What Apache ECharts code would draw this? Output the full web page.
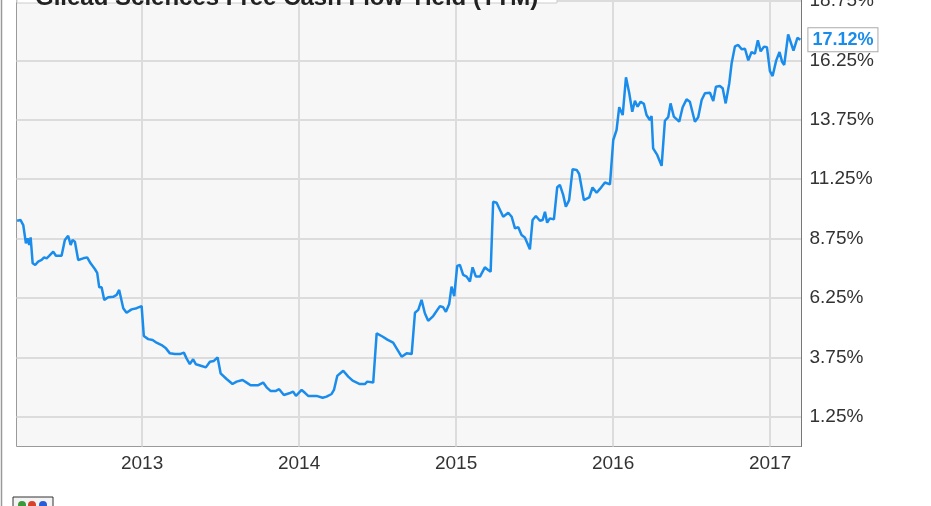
<!DOCTYPE html>
<html>
<head>
<meta charset="utf-8">
<script src="https://cdn.jsdelivr.net/npm/echarts@6/dist/echarts.min.js"></script>
<style>
html,body{margin:0;padding:0;background:#fff;}
#chart{width:931px;height:506px;}
</style>
</head>
<body>
<div id="chart"></div>
<script>
const chartTitle = 'Gilead Sciences Free Cash Flow Yield (TTM)';
const yearTicks = [2013, 2014, 2015, 2016, 2017];
const yTicks = [1.25, 3.75, 6.25, 8.75, 11.25, 13.75, 16.25, 18.75];

const years = [
  2012.204, 2012.226, 2012.243, 2012.260, 2012.271, 2012.281, 2012.290, 2012.303, 2012.319, 2012.338,
  2012.360, 2012.376, 2012.392, 2012.408, 2012.434, 2012.451, 2012.487, 2012.508, 2012.529, 2012.545,
  2012.557, 2012.572, 2012.593, 2012.625, 2012.650, 2012.672, 2012.699, 2012.714, 2012.727, 2012.742,
  2012.759, 2012.784, 2012.816, 2012.838, 2012.854, 2012.880, 2012.901, 2012.933, 2012.965, 2012.997,
  2013.011, 2013.039, 2013.067, 2013.092, 2013.124, 2013.152, 2013.177, 2013.209, 2013.241, 2013.266,
  2013.283, 2013.304, 2013.325, 2013.343, 2013.379, 2013.406, 2013.432, 2013.457, 2013.481, 2013.500,
  2013.538, 2013.576, 2013.602, 2013.640, 2013.666, 2013.691, 2013.740, 2013.771, 2013.793, 2013.818,
  2013.852, 2013.873, 2013.903, 2013.937, 2013.962, 2013.980, 2014.016, 2014.037, 2014.058, 2014.111,
  2014.150, 2014.175, 2014.207, 2014.222, 2014.243, 2014.281, 2014.313, 2014.341, 2014.387, 2014.419,
  2014.434, 2014.472, 2014.494, 2014.531, 2014.562, 2014.599, 2014.621, 2014.653, 2014.685, 2014.717,
  2014.738, 2014.759, 2014.780, 2014.801, 2014.822, 2014.854, 2014.897, 2014.918, 2014.935, 2014.956,
  2014.971, 2014.988, 2015.007, 2015.024, 2015.045, 2015.067, 2015.088, 2015.105, 2015.126, 2015.152,
  2015.183, 2015.204, 2015.220, 2015.236, 2015.258, 2015.300, 2015.332, 2015.354, 2015.375, 2015.396,
  2015.417, 2015.438, 2015.470, 2015.487, 2015.508, 2015.534, 2015.551, 2015.566, 2015.580, 2015.597,
  2015.623, 2015.644, 2015.661, 2015.682, 2015.699, 2015.720, 2015.742, 2015.768, 2015.784, 2015.814,
  2015.848, 2015.869, 2015.895, 2015.916, 2015.948, 2015.980, 2016.001, 2016.022, 2016.039, 2016.061,
  2016.082, 2016.103, 2016.122, 2016.139, 2016.156, 2016.175, 2016.196, 2016.213, 2016.234, 2016.245,
  2016.255, 2016.281, 2016.309, 2016.330, 2016.351, 2016.366, 2016.387, 2016.421, 2016.443, 2016.468,
  2016.489, 2016.521, 2016.542, 2016.564, 2016.585, 2016.617, 2016.638, 2016.655, 2016.680, 2016.698,
  2016.717, 2016.740, 2016.755, 2016.776, 2016.797, 2016.819, 2016.840, 2016.861, 2016.882, 2016.903,
  2016.922, 2016.940, 2016.961, 2016.980, 2016.999, 2017.016, 2017.039, 2017.060, 2017.077, 2017.090,
  2017.115, 2017.149, 2017.174, 2017.193
];

const values = [
  9.50, 9.53, 9.32, 8.55, 8.76, 8.48, 8.80, 7.71, 7.64, 7.78,
  7.85, 7.96, 7.92, 8.02, 8.20, 8.03, 8.03, 8.69, 8.87, 8.48,
  8.69, 8.62, 7.85, 7.92, 7.96, 7.71, 7.47, 7.31, 6.70, 6.70,
  6.17, 6.28, 6.30, 6.38, 6.59, 5.82, 5.63, 5.77, 5.82, 5.91,
  4.65, 4.52, 4.48, 4.37, 4.27, 4.13, 3.92, 3.89, 3.89, 3.95,
  3.71, 3.47, 3.67, 3.46, 3.39, 3.33, 3.57, 3.60, 3.75, 3.08,
  2.84, 2.63, 2.73, 2.80, 2.69, 2.58, 2.58, 2.69, 2.49, 2.34,
  2.34, 2.41, 2.17, 2.24, 2.31, 2.13, 2.38, 2.26, 2.13, 2.13,
  2.05, 2.10, 2.21, 2.38, 2.97, 3.19, 2.94, 2.77, 2.63, 2.63,
  2.73, 2.69, 4.76, 4.63, 4.50, 4.37, 4.13, 3.78, 3.92, 3.89,
  5.63, 5.75, 6.17, 5.61, 5.29, 5.49, 5.91, 5.86, 5.67, 6.00,
  6.73, 6.33, 7.60, 7.64, 7.22, 7.15, 6.94, 7.54, 7.15, 7.15,
  7.54, 7.43, 7.36, 10.30, 10.26, 9.67, 9.84, 9.67, 9.18, 9.23,
  8.90, 8.80, 8.30, 9.53, 9.70, 9.50, 9.53, 9.88, 9.42, 9.60,
  9.56, 10.91, 11.01, 10.59, 10.09, 10.37, 11.67, 11.64, 11.47, 10.37,
  10.48, 10.90, 10.68, 10.84, 11.11, 11.03, 12.90, 13.32, 14.28, 13.95,
  15.54, 14.87, 14.09, 14.55, 14.30, 14.51, 14.42, 13.95, 13.74, 13.91,
  12.55, 12.27, 11.81, 13.71, 13.86, 14.44, 13.88, 13.67, 14.28, 14.61,
  14.51, 13.67, 13.86, 14.58, 14.87, 14.89, 14.54, 15.14, 15.17, 15.08,
  14.44, 15.29, 16.13, 16.84, 16.90, 16.72, 16.74, 16.25, 16.60, 16.53,
  17.10, 16.63, 16.83, 16.80, 15.80, 15.59, 16.25, 16.60, 16.18, 16.06,
  17.34, 16.66, 17.20, 17.12
];

const chart = echarts.init(document.getElementById('chart'), null, {renderer: 'canvas'});
const FONT = "'Liberation Sans', Arial, sans-serif";
const lineColor = '#1a8cec';

chart.setOption({
  animation: false,
  backgroundColor: '#ffffff',
  grid: {
    left: 16.5, right: 129.5, top: -1, bottom: 59.5,
    containLabel: false, outerBoundsMode: 'none',
    show: true, backgroundColor: '#f7f7f7', borderColor: '#9a9a9a', borderWidth: 1
  },
  xAxis: {
    type: 'value', min: 2012.2, max: 2017.2,
    axisLine: {show: false},
    axisTick: {show: false, customValues: yearTicks},
    axisLabel: {
      customValues: yearTicks, color: '#333', fontSize: 19, fontFamily: FONT, margin: 8,
      formatter: v => String(Math.round(v))
    },
    splitLine: {show: true, lineStyle: {color: '#dcdcdc', width: 2}}
  },
  yAxis: {
    type: 'value', position: 'right', min: 0, max: 18.834,
    axisLine: {show: true, lineStyle: {color: '#777', width: 1}},
    axisTick: {show: false, customValues: yTicks},
    axisLabel: {
      customValues: yTicks, color: '#333', fontSize: 19, fontFamily: FONT, margin: 8,
      formatter: v => v.toFixed(2) + '%'
    },
    splitLine: {show: true, lineStyle: {color: '#dcdcdc', width: 2}}
  },
  graphic: [
    {type: 'line', shape: {x1: 1.5, y1: 0, x2: 1.5, y2: 506}, style: {stroke: '#999', lineWidth: 1.5}, z: 100},
    {type: 'rect', shape: {x: 17, y: -30, width: 540, height: 33}, style: {fill: '#ffffff', stroke: '#cccccc', lineWidth: 1}, z: 90},
    {type: 'text', x: 35, y: 10, style: {text: chartTitle, font: "bold 24px 'Liberation Sans', Arial, sans-serif", fill: '#222', verticalAlign: 'bottom'}, z: 91},
    {type: 'group', x: 13, y: 497, z: 100, children: [
      {type: 'rect', shape: {x: 0, y: 0, width: 40, height: 12}, style: {fill: '#f3f3f3', stroke: '#333', lineWidth: 1}},
      {type: 'circle', shape: {cx: 9, cy: 8, r: 4}, style: {fill: '#3a9a3a'}},
      {type: 'circle', shape: {cx: 19, cy: 8, r: 4}, style: {fill: '#d8402a'}},
      {type: 'circle', shape: {cx: 30, cy: 8, r: 4}, style: {fill: '#2a5bd8'}}
    ]}
  ],
  series: [{
    type: 'line',
    name: chartTitle,
    data: years.map((y, i) => [y, values[i]]),
    showSymbol: false,
    symbol: 'none',
    lineStyle: {color: lineColor, width: 2.5},
    itemStyle: {color: lineColor},
    clip: true,
    endLabel: {
      show: true,
      formatter: p => p.value[1].toFixed(2) + '%',
      color: lineColor, fontWeight: 'bold', fontSize: 18, fontFamily: FONT,
      backgroundColor: '#ffffff', borderColor: '#aaaaaa', borderWidth: 1,
      padding: [3, 4, 2, 4], distance: 8
    }
  }]
});
</script>
</body>
</html>
